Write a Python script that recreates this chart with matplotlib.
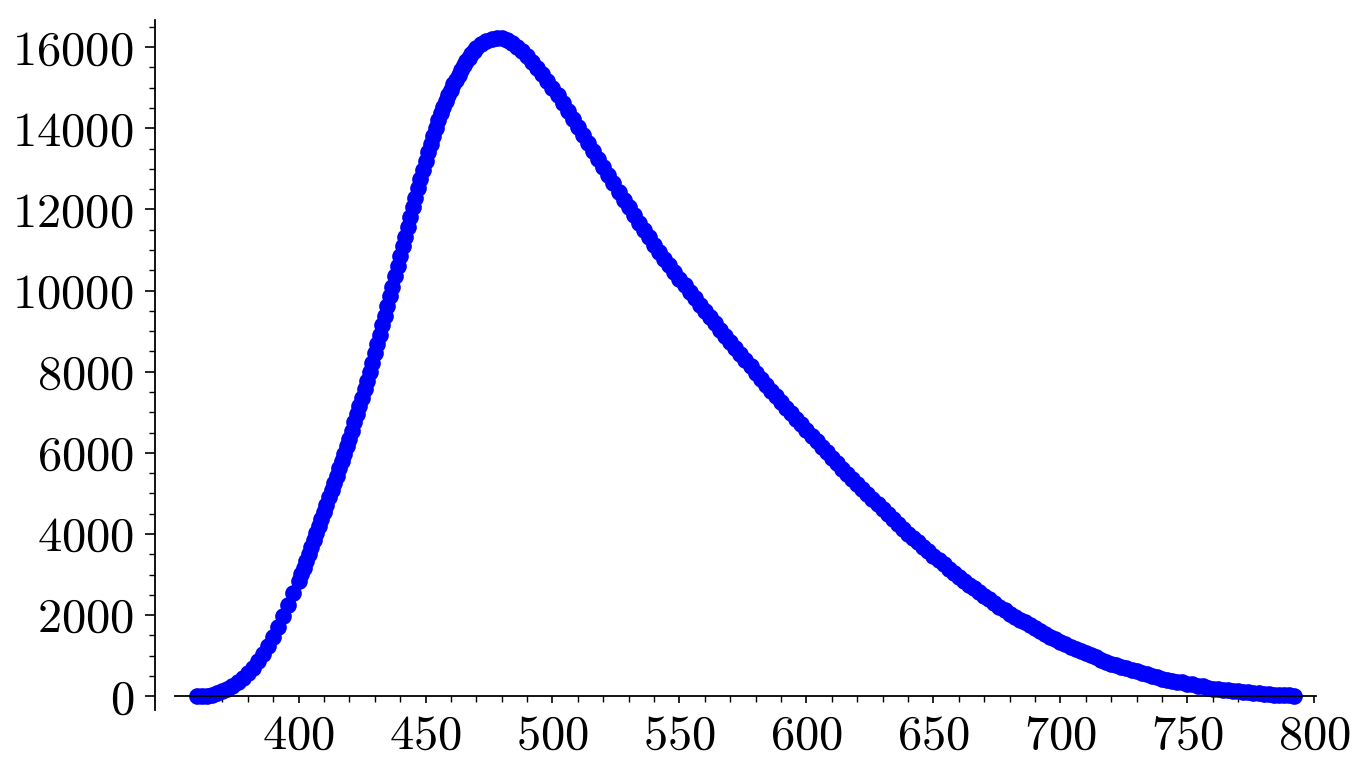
import numpy as np
import matplotlib
matplotlib.use("Agg")
import matplotlib.pyplot as plt
from matplotlib.ticker import MultipleLocator

plt.rcParams['font.family'] = 'serif'
plt.rcParams['font.serif'] = ['cmr10']
plt.rcParams['mathtext.fontset'] = 'cm'
plt.rcParams['axes.formatter.use_mathtext'] = True

# wavelength samples (nm), rising flank
x_rise = [360, 362, 364, 366, 368, 370, 372, 374, 376, 378,
          380, 382, 384, 386, 388, 390, 392, 394, 396, 398]
y_rise = [0, 5, 15, 35, 70, 120, 180, 260, 350, 460,
          560, 700, 860, 1030, 1230, 1450, 1700, 1970, 2250, 2550]

# steep part, 1 nm apart
x_steep = list(range(400, 471))
y_steep = [2850, 3010, 3170, 3340, 3510, 3680, 3850, 4020, 4200, 4370,
           4550, 4720, 4900, 5080, 5260, 5440, 5620, 5800, 5980, 6160,
           6350, 6550, 6750, 6950, 7150, 7360, 7570, 7780, 8000, 8220,
           8450, 8680, 8910, 9140, 9380, 9620, 9860, 10100, 10350, 10600,
           10850, 11090, 11330, 11570, 11810, 12050, 12290, 12520, 12750, 12980,
           13200, 13410, 13620, 13820, 14010, 14200, 14370, 14530, 14680, 14820,
           14950, 15080, 15200, 15320, 15440, 15550, 15650, 15740, 15830, 15910,
           15980]

# peak and falling tail, 2 nm apart
x_fall = list(range(472, 793, 2))
y_fall = [16070, 16140, 16190, 16220, 16220, 16170, 16100, 16010, 15900, 15780,
          15640, 15490, 15340, 15170, 15000, 14810, 14620, 14430, 14240, 14040,
          13840, 13640, 13440, 13240, 13040, 12840, 12640, 12440, 12240, 12050,
          11860, 11670, 11490, 11310, 11130, 10960, 10790, 10620, 10450, 10290,
          10130, 9970, 9810, 9650, 9500, 9340, 9190, 9030, 8880, 8730,
          8580, 8430, 8290, 8140,
          7960, 7820, 7680, 7530, 7390, 7250, 7110, 6970, 6830, 6700,
          6560, 6420, 6290, 6150, 6020, 5880, 5750, 5610, 5480, 5350,
          5220, 5100, 4980, 4850, 4730, 4610, 4490, 4370, 4250, 4120,
          4000, 3890, 3790, 3680, 3570, 3460, 3360, 3250, 3140, 3040,
          2930, 2840, 2750, 2660, 2570, 2480, 2390, 2300, 2210, 2120,
          2030, 1960, 1890, 1820, 1750, 1680, 1610, 1540, 1470, 1400,
          1330, 1280, 1220, 1170, 1120, 1060, 1010, 960, 900, 850,
          800, 760, 730, 690, 650, 610, 580, 540, 500, 470,
          430, 410, 380, 360, 340, 310, 290, 260, 240, 210,
          190, 180, 160, 150, 140, 120, 110, 100, 90, 70,
          60, 50, 40, 30, 25, 20, 15]

x = np.array(x_rise + x_steep + x_fall)
y = np.array(y_rise + y_steep + y_fall)

fig = plt.figure(figsize=(13.69, 7.71), dpi=100)
ax = fig.add_axes([175/1369, 61/771, (1316-175)/1369, (710-20)/771])

ax.plot(x, y, 'o', color='blue', markersize=12, markeredgewidth=0, clip_on=False)

ax.set_xlim(351.36, 800.64)
ax.set_ylim(-340, 16670)

ax.spines['top'].set_visible(False)
ax.spines['right'].set_visible(False)
ax.spines['bottom'].set_position(('data', 0))
ax.spines['left'].set_position(('outward', 14.5))
for s in ('bottom', 'left'):
    ax.spines[s].set_linewidth(1.3)

ax.xaxis.set_major_locator(MultipleLocator(50))
ax.xaxis.set_minor_locator(MultipleLocator(10))
ax.yaxis.set_major_locator(MultipleLocator(2000))
ax.yaxis.set_minor_locator(MultipleLocator(500))

ax.tick_params(axis='x', which='major', length=5, width=1.2, labelsize=35, pad=8)
ax.tick_params(axis='x', which='minor', length=4, width=1.0)
ax.tick_params(axis='y', which='major', length=7, width=1.2, labelsize=35, pad=8)
ax.tick_params(axis='y', which='minor', length=4, width=1.0)

fig.savefig('out.png', dpi=100)
